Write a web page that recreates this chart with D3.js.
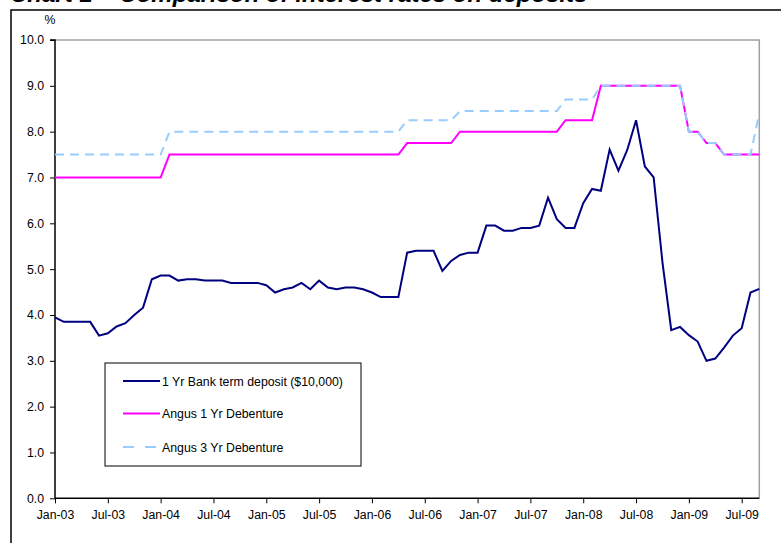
<!DOCTYPE html>
<html><head><meta charset="utf-8">
<script src="https://cdn.jsdelivr.net/npm/d3@7"></script>
<style>body{margin:0;background:#fff;overflow:hidden}svg{display:block}text{font-family:Arial,"Liberation Sans",sans-serif}</style>
</head><body>
<svg id="c" width="781" height="543"></svg>
<script>
const titleText = "Chart 1 \u2013 Comparison of interest rates on deposits";
const xTickLabels = ["Jan-03","Jul-03","Jan-04","Jul-04","Jan-05","Jul-05","Jan-06","Jul-06","Jan-07","Jul-07","Jan-08","Jul-08","Jan-09","Jul-09"];
const yTicks = [0,1,2,3,4,5,6,7,8,9,10];
const seriesNames = ["1 Yr Bank term deposit ($10,000)","Angus 1 Yr Debenture","Angus 3 Yr Debenture"];
// monthly categories Jan-03 .. Sep-09
const months = d3.timeMonth.range(new Date(2003,0,1), new Date(2009,9,1));
const bankDeposit = [
 3.95,3.85,3.85,3.85,3.85,3.55,3.60,3.75,3.82,4.00,4.16,4.78,
 4.86,4.86,4.75,4.78,4.78,4.75,4.75,4.75,4.70,4.70,4.70,4.70,
 4.65,4.49,4.56,4.60,4.70,4.56,4.75,4.60,4.56,4.60,4.60,4.56,
 4.49,4.39,4.39,4.39,5.36,5.40,5.40,5.40,4.96,5.18,5.31,5.36,
 5.36,5.95,5.95,5.84,5.84,5.90,5.90,5.95,6.56,6.09,5.90,5.90,
 6.44,6.75,6.71,7.61,7.15,7.60,8.25,7.24,7.00,5.15,3.67,3.74,
 3.56,3.42,3.00,3.05,3.29,3.55,3.71,4.49,4.57];
const angus1Yr = [
 7.0,7.0,7.0,7.0,7.0,7.0,7.0,7.0,7.0,7.0,7.0,7.0,
 7.0,7.5,7.5,7.5,7.5,7.5,7.5,7.5,7.5,7.5,7.5,7.5,
 7.5,7.5,7.5,7.5,7.5,7.5,7.5,7.5,7.5,7.5,7.5,7.5,
 7.5,7.5,7.5,7.5,7.75,7.75,7.75,7.75,7.75,7.75,8.0,8.0,
 8.0,8.0,8.0,8.0,8.0,8.0,8.0,8.0,8.0,8.0,8.25,8.25,
 8.25,8.25,9.0,9.0,9.0,9.0,9.0,9.0,9.0,9.0,9.0,9.0,
 8.0,8.0,7.75,7.75,7.5,7.5,7.5,7.5,7.5];
const angus3Yr = [
 7.5,7.5,7.5,7.5,7.5,7.5,7.5,7.5,7.5,7.5,7.5,7.5,
 7.5,8.0,8.0,8.0,8.0,8.0,8.0,8.0,8.0,8.0,8.0,8.0,
 8.0,8.0,8.0,8.0,8.0,8.0,8.0,8.0,8.0,8.0,8.0,8.0,
 8.0,8.0,8.0,8.0,8.25,8.25,8.25,8.25,8.25,8.25,8.45,8.45,
 8.45,8.45,8.45,8.45,8.45,8.45,8.45,8.45,8.45,8.45,8.7,8.7,
 8.7,8.7,9.0,9.0,9.0,9.0,9.0,9.0,9.0,9.0,9.0,9.0,
 8.0,8.0,7.75,7.75,7.5,7.5,7.5,7.5,8.4];

const svg = d3.select("#c");
const L = 55, R = 759.3, T = 40, B = 498.3;
const FS = 12.3;
const x = d3.scaleLinear().domain([0, months.length - 1]).range([L, R]);
const y = d3.scaleLinear().domain([0, 10]).range([B, T]);

// title (cut off at top, as in the reference)
svg.append("text").attr("x", 10).attr("y", 2).attr("font-size", 24)
  .attr("font-weight", "bold").attr("font-style", "italic").attr("fill", "#000").text(titleText);
// outer chart border
svg.append("rect").attr("x", 11).attr("y", 10).attr("width", 800).attr("height", 600)
  .attr("fill", "none").attr("stroke", "#000").attr("stroke-width", 1.5);
// plot area border (top/right grey)
svg.append("path").attr("d", `M${L},${T}H${R}V${B}`).attr("fill", "none")
  .attr("stroke", "#a0a0a0").attr("stroke-width", 1.5);

// y axis
const yAxis = d3.axisLeft(y).tickValues(yTicks).tickFormat(d3.format(".1f")).tickSize(5).tickPadding(6);
const gy = svg.append("g").attr("transform", `translate(${L},0)`).call(yAxis);
gy.select(".domain").attr("stroke", "#000").attr("stroke-width", 1.5).attr("d", `M-5,${T}H0V${B}`);
gy.selectAll(".tick line").attr("stroke", "#000");
gy.selectAll("text").attr("font-size", FS).attr("font-family", "Arial, 'Liberation Sans', sans-serif").attr("fill", "#000");

// x axis
const xTickVals = xTickLabels.map((_, i) => i * 6);
const xAxis = d3.axisBottom(x).tickValues(xTickVals).tickFormat((d, i) => xTickLabels[i]).tickSize(5).tickPadding(7);
const gx = svg.append("g").attr("transform", `translate(0,${B})`).call(xAxis);
gx.select(".domain").attr("stroke", "#000").attr("stroke-width", 1.5).attr("d", `M${L},0H${R}`);
gx.selectAll(".tick line").attr("stroke", "#000");
gx.selectAll("text").attr("font-size", FS).attr("font-family", "Arial, 'Liberation Sans', sans-serif").attr("fill", "#000");

// % label
svg.append("text").attr("x", 50).attr("y", 24).attr("text-anchor", "middle").attr("font-size", FS).text("%");

const line = d3.line().x((d, i) => x(i)).y(d => y(d));
const styles = [
  {data: bankDeposit, color: "#000080", dash: null},
  {data: angus1Yr, color: "#FF00FF", dash: null},
  {data: angus3Yr, color: "#99CCFF", dash: "9,6"}
];
styles.forEach(s => {
  svg.append("path").datum(s.data).attr("d", line).attr("fill", "none")
    .attr("stroke", s.color).attr("stroke-width", 2).attr("stroke-linejoin", "miter")
    .attr("stroke-dasharray", s.dash);
});

// legend
const lg = svg.append("g");
lg.append("rect").attr("x", 105).attr("y", 363).attr("width", 256).attr("height", 103)
  .attr("fill", "#fff").attr("stroke", "#000").attr("stroke-width", 1);
const rowY = [381, 413.5, 447];
styles.forEach((s, i) => {
  lg.append("line").attr("x1", 123).attr("x2", 160).attr("y1", rowY[i]).attr("y2", rowY[i])
    .attr("stroke", s.color).attr("stroke-width", 2).attr("stroke-dasharray", s.dash ? "11,11" : null);
  lg.append("text").attr("x", 162).attr("y", rowY[i] + 4.5).attr("font-size", FS).attr("fill", "#000").text(seriesNames[i]);
});
</script>
</body></html>
